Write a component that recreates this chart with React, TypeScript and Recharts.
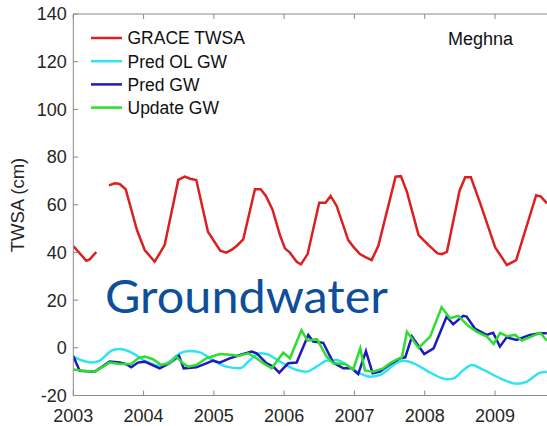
import React from "react";
import { LineChart, Line, XAxis, YAxis } from "recharts";

// decimal-year sample times and values (cm) for each series
const graceYears = [
  2003.0, 2003.185, 2003.233, 2003.327, 2003.42, 2003.508, 2003.589, 2003.66, 2003.745, 2003.906,
  2004.016, 2004.158, 2004.3, 2004.494, 2004.585, 2004.664, 2004.75, 2004.916, 2005.091, 2005.176,
  2005.262, 2005.324, 2005.418, 2005.585, 2005.666, 2005.741, 2005.836, 2005.94, 2006.011, 2006.082,
  2006.178, 2006.239, 2006.334, 2006.499, 2006.59, 2006.661, 2006.747, 2006.912, 2006.993, 2007.078,
  2007.164, 2007.245, 2007.339, 2007.586, 2007.661, 2007.746, 2007.913, 2008.055, 2008.183, 2008.245,
  2008.316, 2008.496, 2008.576, 2008.657, 2008.79, 2009.003, 2009.17, 2009.302, 2009.586, 2009.653,
  2009.74,
];
const graceTwsa = [
  42.7, 36.5, 37.1, 40.2, null, 68.1, 69.0, 68.7, 66.5, 49.4,
  41.0, 36.1, 43.1, 70.4, 71.8, 70.9, 70.4, 48.7, 40.7, 39.9,
  41.3, 42.7, 45.5, 66.5, 66.5, 63.7, 57.8, 47.3, 41.7, 39.9,
  36.1, 35.0, 39.3, 60.8, 60.8, 63.7, 59.5, 45.2, 42.1, 39.3,
  37.9, 36.8, 42.7, 71.8, 72.0, 65.5, 47.3, 43.1, 39.6, 39.3,
  40.2, 65.9, 71.5, 71.5, 60.6, 42.1, 34.7, 36.8, 64.0, 63.4,
  60.6,
];

const olYears = [
  2003.0, 2003.138, 2003.28, 2003.376, 2003.565, 2003.66, 2003.849, 2004.038, 2004.229, 2004.371,
  2004.514, 2004.656, 2004.798, 2004.987, 2005.176, 2005.371, 2005.513, 2005.656, 2005.751, 2005.94,
  2006.178, 2006.32, 2006.462, 2006.605, 2006.747, 2006.889, 2007.078, 2007.22, 2007.363, 2007.505,
  2007.605, 2007.7, 2007.842, 2008.078, 2008.316, 2008.411, 2008.553, 2008.671, 2008.838, 2009.074,
  2009.312, 2009.454, 2009.643, 2009.738,
];
const olGw = [
  -3.7, -5.4, -6.2, -5.4, -0.9, -0.5, -2.3, -5.8, -7.5, -5.8,
  -2.3, -1.3, -1.9, -5.1, -7.9, -8.6, -5.1, -2.3, -2.6, -5.8,
  -9.3, -10.0, -7.9, -5.4, -5.1, -7.2, -10.7, -12.1, -11.4, -8.5,
  -6.2, -5.4, -6.5, -10.4, -13.2, -12.8, -9.3, -7.2, -9.3, -12.8,
  -15.1, -14.2, -10.4, -10.0,
];

const predYears = [
  2003.0, 2003.043, 2003.091, 2003.304, 2003.398, 2003.518, 2003.66, 2003.754, 2003.825, 2003.92,
  2004.016, 2004.229, 2004.371, 2004.504, 2004.57, 2004.75, 2004.892, 2004.987, 2005.083, 2005.225,
  2005.371, 2005.538, 2005.609, 2005.751, 2005.845, 2005.93, 2006.058, 2006.178, 2006.343, 2006.414,
  2006.556, 2006.698, 2006.841, 2006.96, 2007.054, 2007.164, 2007.259, 2007.363, 2007.505, 2007.651,
  2007.723, 2007.818, 2007.993, 2008.127, 2008.312, 2008.405, 2008.548, 2008.596, 2008.714, 2008.88,
  2008.974, 2009.07, 2009.165, 2009.307, 2009.496, 2009.639, 2009.738,
];
const predGw = [
  -3.4, -6.5, -9.6, -10.0, -8.2, -5.8, -6.2, -6.9, -8.2, -6.2,
  -5.8, -8.6, -6.5, -3.4, -8.6, -8.2, -6.5, -5.4, -6.2, -4.4,
  -3.0, -1.6, -2.3, -6.5, -7.9, -10.4, -6.5, -6.2, 5.4, 2.6,
  2.1, -6.2, -8.6, -8.6, -11.0, -1.4, -10.7, -10.0, -7.0, -4.4,
  -4.0, 4.7, -2.6, -0.2, 13.1, 9.9, 13.4, 13.1, 8.1, 5.4,
  6.3, 0.5, 4.4, 3.3, 5.4, 6.1, 6.1,
];

const updYears = [
  2003.0, 2003.138, 2003.304, 2003.518, 2003.66, 2003.825, 2003.92, 2004.016, 2004.134, 2004.252,
  2004.371, 2004.465, 2004.56, 2004.632, 2004.75, 2004.892, 2005.083, 2005.272, 2005.347, 2005.489,
  2005.609, 2005.703, 2005.822, 2005.987, 2006.082, 2006.246, 2006.331, 2006.467, 2006.605, 2006.698,
  2006.865, 2006.983, 2007.083, 2007.149, 2007.267, 2007.41, 2007.505, 2007.605, 2007.676, 2007.747,
  2007.913, 2008.078, 2008.24, 2008.359, 2008.477, 2008.619, 2008.742, 2008.885, 2008.98, 2009.074,
  2009.17, 2009.287, 2009.383, 2009.643, 2009.738,
];
const updGw = [
  -9.1, -9.6, -10.0, -6.2, -6.8, -6.8, -4.4, -3.7, -4.8, -7.2,
  -6.5, -3.7, -6.5, -7.9, -7.2, -4.4, -2.6, -3.0, -3.4, -2.3,
  -4.4, -6.5, -8.6, -2.0, -4.4, 7.4, 3.0, 3.6, -3.7, -6.5,
  -6.8, -9.1, -0.2, -9.5, -10.0, -8.6, -6.5, -4.8, -4.0, 6.7,
  0.0, 4.7, 17.0, 12.4, 13.4, 9.2, 6.7, 4.7, 1.6, 6.3,
  4.9, 5.4, 3.0, 6.3, 3.0,
];

const yearTicks = [2003, 2004, 2005, 2006, 2007, 2008, 2009];
const twsaTicks = [-20, 0, 20, 40, 60, 80, 100, 120, 140];

const series = [
  { name: "GRACE TWSA", color: "#dc1f1f", years: graceYears, values: graceTwsa, curve: "linear" },
  { name: "Pred OL GW", color: "#2fe4f0", years: olYears, values: olGw, curve: "monotone" },
  { name: "Pred GW", color: "#1b1bbf", years: predYears, values: predGw, curve: "linear" },
  { name: "Update GW", color: "#2fdc2f", years: updYears, values: updGw, curve: "linear" },
];

const toRows = (years: number[], values: (number | null)[]) =>
  years.map((t, i) => ({ t, v: values[i] }));

const FONT = "'Liberation Sans', Arial, sans-serif";
const AXIS = "#8a8a8a";
const tickStyle = { fill: "#262626", fontSize: 18, fontFamily: FONT };
const axisLine = { stroke: AXIS, strokeWidth: 1 };

export default function App() {
  return (
    <div style={{ position: "fixed", left: 0, top: 0, width: 547, height: 426, background: "#fff" }}>
      <LineChart width={547} height={426} margin={{ top: 13, right: 0, bottom: 29.5, left: 0 }}>
        <XAxis
          xAxisId="bottom"
          dataKey="t"
          type="number"
          domain={[2003, 2009.74]}
          allowDataOverflow
          ticks={yearTicks}
          height={1}
          axisLine={axisLine}
          tickLine={axisLine}
          tickSize={-5}
          tickMargin={19}
          tick={tickStyle}
        />
        <XAxis
          xAxisId="top"
          orientation="top"
          dataKey="t"
          type="number"
          domain={[2003, 2009.74]}
          allowDataOverflow
          ticks={yearTicks}
          height={1}
          axisLine={axisLine}
          tickLine={axisLine}
          tickSize={-5}
          tickFormatter={() => ""}
        />
        <YAxis
          type="number"
          domain={[-20, 140]}
          ticks={twsaTicks}
          width={73.3}
          axisLine={axisLine}
          tickLine={axisLine}
          tickSize={-5}
          tickMargin={11.5}
          tick={tickStyle}
        />
        {series.map((s) => (
          <Line
            key={s.name}
            xAxisId="bottom"
            data={toRows(s.years, s.values)}
            dataKey="v"
            name={s.name}
            type={s.curve as any}
            stroke={s.color}
            strokeWidth={2.5}
            dot={false}
            activeDot={false}
            isAnimationActive={false}
          />
        ))}
      </LineChart>
      <svg width={547} height={426} style={{ position: "absolute", left: 0, top: 0, pointerEvents: "none" }}>
        <text
          transform="translate(24,205) rotate(-90)"
          textAnchor="middle"
          fontFamily={FONT}
          fontSize={18.5}
          fill="#262626"
        >
          TWSA (cm)
        </text>
        {series.map((s, i) => (
          <g key={s.name}>
            <line x1={91} x2={122} y1={38 + i * 23.2} y2={38 + i * 23.2} stroke={s.color} strokeWidth={2.5} />
            <text x={127.5} y={44.3 + i * 23.2} fontFamily={FONT} fontSize={17.5} fill="#111">
              {s.name}
            </text>
          </g>
        ))}
        <text x={448} y={45} fontFamily={FONT} fontSize={18} fill="#111">
          Meghna
        </text>
        <text
          x={105}
          y={313}
          fontFamily="Lato, 'Open Sans', sans-serif"
          fontSize={47}
          fill="#0d4f9b"
          textLength={283}
          lengthAdjust="spacingAndGlyphs"
        >
          Groundwater
        </text>
      </svg>
    </div>
  );
}
